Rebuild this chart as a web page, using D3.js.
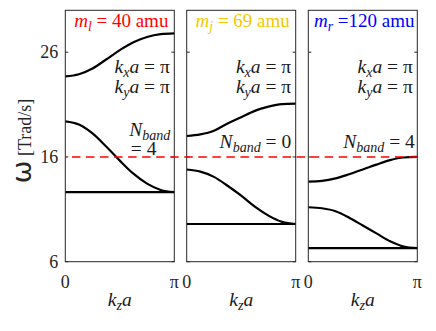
<!DOCTYPE html>
<head>
<meta charset="utf-8">
<script src="https://d3js.org/d3.v7.min.js"></script>
<style>
  body { margin:0; background:#fff; }
  svg text { font-family: "Liberation Serif", "Times New Roman", serif; }
</style>
</head>
<body>
<svg id="chart" width="436" height="331" font-family="Liberation Serif"></svg>
<script>
// k_z a sample points, in units of pi
var kzFrac = [0, 0.125, 0.25, 0.375, 0.5, 0.625, 0.75, 0.875, 1];
// omega [Trad/s], one row per panel
var upperBand = [
  [23.7, 23.9, 24.45, 25.3, 26.2, 26.95, 27.45, 27.72, 27.8],
  [18.0, 18.15, 18.5, 19.2, 19.8, 20.4, 20.8, 21.05, 21.1],
  [13.65, 13.72, 13.95, 14.35, 14.8, 15.27, 15.7, 15.95, 16.0]
];
var middleBand = [
  [19.4, 19.1, 18.25, 17.0, 15.65, 14.4, 13.45, 12.85, 12.65],
  [14.8, 14.6, 14.1, 13.25, 12.3, 11.25, 10.4, 9.8, 9.6],
  [11.2, 11.1, 10.82, 10.2, 9.45, 8.7, 7.95, 7.45, 7.3]
];
var flatBand = [12.65, 9.6, 7.3];
var massSub = ["l", "j", "r"];
var massText = ["= 40 amu", "= 69 amu", "=120 amu"];
var nBand = [4, 0, 4];
var yTicks = [6, 16, 26];
var xTicks = [0, Math.PI];
var xTickLabels = ["0", "\u03c0"];
var cutoff = 16;

var massColor = ["#ff0000", "#f5c800", "#0000ff"];
var panelLeft = [65.3, 186.7, 308.3], panelW = 109, plotTop = 10.3, plotBottom = 261.7;

var svg = d3.select("#chart");
var y = d3.scaleLinear().domain([6, 30]).range([plotBottom, plotTop]);

// write a bit of math: segments of [text, kind] kind = i (italic), s (italic subscript), n (normal)
function mathText(sel, segs, size) {
  sel.style("font-size", size + "px");
  var shift = 0;
  segs.forEach(function(s) {
    var t = sel.append("tspan").text(s[0]);
    var d = s[1] == "s" ? 4 : 0;
    t.attr("dy", d - shift);
    shift = d;
    if (s[1] != "n") t.style("font-style", "italic");
    if (s[1] == "s") t.style("font-size", (size * 0.72) + "px");
  });
  return sel;
}

panelLeft.forEach(function(left, p) {
  var x = d3.scaleLinear().domain([0, Math.PI]).range([left, left + panelW]);
  var g = svg.append("g");

  var pts = function(arr) { return arr.map(function(v, i) { return [kzFrac[i] * Math.PI, v]; }); };
  var line = d3.line().x(function(d) { return x(d[0]); }).y(function(d) { return y(d[1]); }).curve(d3.curveMonotoneX);

  [pts(upperBand[p]), pts(middleBand[p]), [[0, flatBand[p]], [Math.PI, flatBand[p]]]].forEach(function(b) {
    g.append("path").attr("d", line(b)).attr("fill", "none").attr("stroke", "#000").attr("stroke-width", 2.2);
  });

  // ticks both sides, inward
  yTicks.forEach(function(t) {
    g.append("line").attr("x1", left).attr("x2", left + 3).attr("y1", y(t)).attr("y2", y(t)).attr("stroke", "#262626");
    g.append("line").attr("x1", left + panelW - 3).attr("x2", left + panelW).attr("y1", y(t)).attr("y2", y(t)).attr("stroke", "#262626");
    if (p == 0) {
      g.append("text").attr("x", left - 7).attr("y", y(t) + 6).attr("text-anchor", "end")
        .style("font-size", "18px").attr("fill", "#262626").text(t);
    }
  });
  xTicks.forEach(function(t, i) {
    g.append("text").attr("x", x(t)).attr("y", 288).attr("text-anchor", "middle")
      .style("font-size", "18px").attr("fill", "#262626").text(xTickLabels[i]);
  });

  g.append("rect").attr("x", left).attr("y", plotTop).attr("width", panelW).attr("height", plotBottom - plotTop)
    .attr("fill", "none").attr("stroke", "#262626").attr("stroke-width", 1);

  // title
  mathText(g.append("text").attr("x", left + panelW / 2 + 1.5).attr("y", 26.5).attr("text-anchor", "middle").attr("fill", massColor[p]),
    [["m", "i"], [massSub[p], "s"], [" " + massText[p], "n"]], 19);

  var rx = left + panelW - 4.5;
  mathText(g.append("text").attr("x", rx).attr("y", 73).attr("text-anchor", "end").attr("fill", "#1a1a1a"),
    [["k", "i"], ["x", "s"], ["a", "i"], [" = \u03c0", "n"]], 19.5);
  mathText(g.append("text").attr("x", rx).attr("y", 93).attr("text-anchor", "end").attr("fill", "#1a1a1a"),
    [["k", "i"], ["y", "s"], ["a", "i"], [" = \u03c0", "n"]], 19.5);

  if (p == 0) {
    mathText(g.append("text").attr("x", left + 64).attr("y", 136).attr("fill", "#1a1a1a"),
      [["N", "i"], ["band", "s"]], 19.5);
    mathText(g.append("text").attr("x", left + 65.5).attr("y", 155).attr("fill", "#1a1a1a"),
      [["= " + nBand[p], "n"]], 19.5);
  } else {
    mathText(g.append("text").attr("x", rx + (p == 2 ? 2 : 0)).attr("y", 148).attr("text-anchor", "end").attr("fill", "#1a1a1a"),
      [["N", "i"], ["band", "s"], [" = " + nBand[p], "n"]], 19.5);
  }

  mathText(g.append("text").attr("x", left + panelW / 2).attr("y", 306).attr("text-anchor", "middle").attr("fill", "#1a1a1a"),
    [["k", "i"], ["z", "s"], ["a", "i"]], 19.5);
});

// red dashed cut-off line across all panels
var xAll = d3.scaleLinear().domain([0, 1]).range([panelLeft[0], panelLeft[2] + panelW]);
svg.append("line").attr("x1", xAll(0)).attr("x2", xAll(1)).attr("y1", y(cutoff)).attr("y2", y(cutoff))
  .attr("stroke", "#ff0000").attr("stroke-width", 1.6).attr("stroke-dasharray", "8.5,5.54").attr("stroke-dashoffset", 7.4);

// y label
var yl = svg.append("text").attr("transform", "translate(31,141) rotate(-90)").attr("text-anchor", "middle").attr("fill", "#262626");
yl.append("tspan").text("\u03c9").style("font-size", "27px").style("font-family", "'DejaVu Sans', sans-serif");
yl.append("tspan").text(" [Trad/s]").style("font-size", "18px");
</script>
</body>
